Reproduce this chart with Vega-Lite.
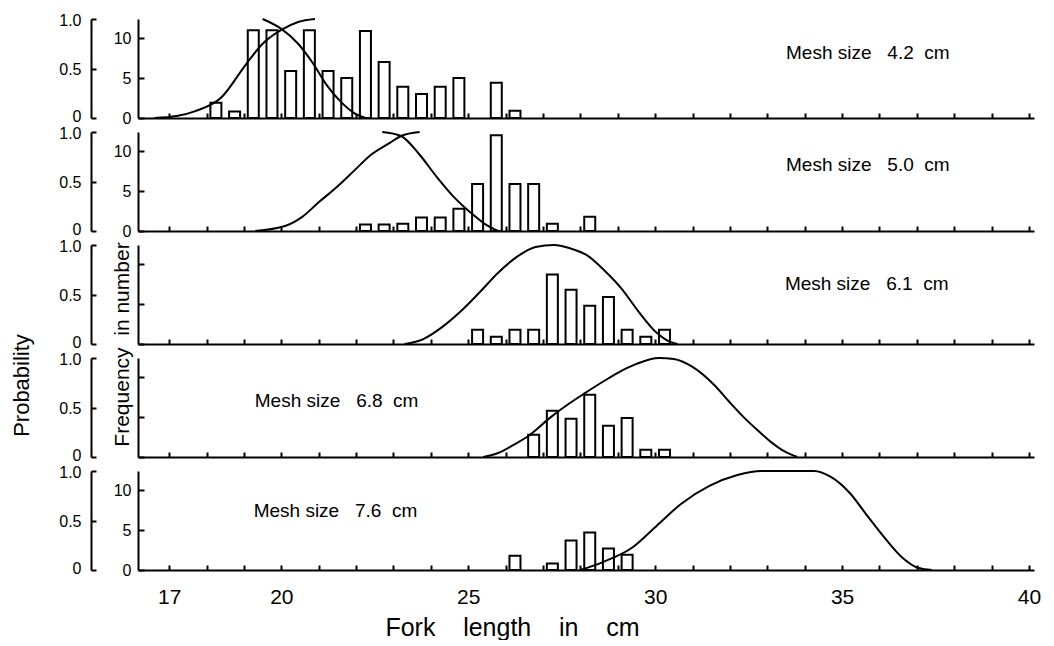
{
  "$schema": "https://vega.github.io/schema/vega-lite/v6.json",
  "background": "white",
  "padding": {"left": 10, "top": 12, "right": 0, "bottom": 0},
  "bounds": "flush",
  "spacing": 14,
  "datasets": {
    "bars": [
      {"mesh": "4.2", "length": 18.25, "freq": 1.9},
      {"mesh": "4.2", "length": 18.75, "freq": 0.8},
      {"mesh": "4.2", "length": 19.25, "freq": 11},
      {"mesh": "4.2", "length": 19.75, "freq": 11},
      {"mesh": "4.2", "length": 20.25, "freq": 5.9},
      {"mesh": "4.2", "length": 20.75, "freq": 11},
      {"mesh": "4.2", "length": 21.25, "freq": 5.9},
      {"mesh": "4.2", "length": 21.75, "freq": 5},
      {"mesh": "4.2", "length": 22.25, "freq": 10.9},
      {"mesh": "4.2", "length": 22.75, "freq": 7},
      {"mesh": "4.2", "length": 23.25, "freq": 3.9},
      {"mesh": "4.2", "length": 23.75, "freq": 3},
      {"mesh": "4.2", "length": 24.25, "freq": 3.9},
      {"mesh": "4.2", "length": 24.75, "freq": 5},
      {"mesh": "4.2", "length": 25.75, "freq": 4.4},
      {"mesh": "4.2", "length": 26.25, "freq": 0.9},
      {"mesh": "5.0", "length": 22.25, "freq": 0.8},
      {"mesh": "5.0", "length": 22.75, "freq": 0.8},
      {"mesh": "5.0", "length": 23.25, "freq": 0.9},
      {"mesh": "5.0", "length": 23.75, "freq": 1.7},
      {"mesh": "5.0", "length": 24.25, "freq": 1.7},
      {"mesh": "5.0", "length": 24.75, "freq": 2.8},
      {"mesh": "5.0", "length": 25.25, "freq": 5.9},
      {"mesh": "5.0", "length": 25.75, "freq": 12},
      {"mesh": "5.0", "length": 26.25, "freq": 5.9},
      {"mesh": "5.0", "length": 26.75, "freq": 5.9},
      {"mesh": "5.0", "length": 27.25, "freq": 0.9},
      {"mesh": "5.0", "length": 28.25, "freq": 1.8},
      {"mesh": "6.1", "length": 25.25, "freq": 1.8},
      {"mesh": "6.1", "length": 25.75, "freq": 0.9},
      {"mesh": "6.1", "length": 26.25, "freq": 1.8},
      {"mesh": "6.1", "length": 26.75, "freq": 1.8},
      {"mesh": "6.1", "length": 27.25, "freq": 8.7},
      {"mesh": "6.1", "length": 27.75, "freq": 6.8},
      {"mesh": "6.1", "length": 28.25, "freq": 4.8},
      {"mesh": "6.1", "length": 28.75, "freq": 5.9},
      {"mesh": "6.1", "length": 29.25, "freq": 1.8},
      {"mesh": "6.1", "length": 29.75, "freq": 0.9},
      {"mesh": "6.1", "length": 30.25, "freq": 1.8},
      {"mesh": "6.8", "length": 26.75, "freq": 2.8},
      {"mesh": "6.8", "length": 27.25, "freq": 5.8},
      {"mesh": "6.8", "length": 27.75, "freq": 4.8},
      {"mesh": "6.8", "length": 28.25, "freq": 7.8},
      {"mesh": "6.8", "length": 28.75, "freq": 3.9},
      {"mesh": "6.8", "length": 29.25, "freq": 4.9},
      {"mesh": "6.8", "length": 29.75, "freq": 0.9},
      {"mesh": "6.8", "length": 30.25, "freq": 0.9},
      {"mesh": "7.6", "length": 26.25, "freq": 1.8},
      {"mesh": "7.6", "length": 27.25, "freq": 0.8},
      {"mesh": "7.6", "length": 27.75, "freq": 3.7},
      {"mesh": "7.6", "length": 28.25, "freq": 4.7},
      {"mesh": "7.6", "length": 28.75, "freq": 2.7},
      {"mesh": "7.6", "length": 29.25, "freq": 1.9}
    ],
    "curves": [
      {"mesh": "4.2", "limb": "a", "length": 16.6, "prob": 0},
      {"mesh": "4.2", "limb": "a", "length": 17.2, "prob": 0.02},
      {"mesh": "4.2", "limb": "a", "length": 17.7, "prob": 0.07},
      {"mesh": "4.2", "limb": "a", "length": 18.4, "prob": 0.21},
      {"mesh": "4.2", "limb": "a", "length": 19.05, "prob": 0.54},
      {"mesh": "4.2", "limb": "a", "length": 19.5, "prob": 0.75},
      {"mesh": "4.2", "limb": "a", "length": 20.0, "prob": 0.89},
      {"mesh": "4.2", "limb": "a", "length": 20.45, "prob": 0.97},
      {"mesh": "4.2", "limb": "a", "length": 20.9, "prob": 1.0},
      {"mesh": "4.2", "limb": "b", "length": 19.5, "prob": 1.0},
      {"mesh": "4.2", "limb": "b", "length": 20.0, "prob": 0.9},
      {"mesh": "4.2", "limb": "b", "length": 20.45, "prob": 0.75},
      {"mesh": "4.2", "limb": "b", "length": 20.85, "prob": 0.55},
      {"mesh": "4.2", "limb": "b", "length": 21.2, "prob": 0.34},
      {"mesh": "4.2", "limb": "b", "length": 21.6, "prob": 0.16},
      {"mesh": "4.2", "limb": "b", "length": 21.95, "prob": 0.05},
      {"mesh": "4.2", "limb": "b", "length": 22.25, "prob": 0.0},
      {"mesh": "5.0", "limb": "a", "length": 19.3, "prob": 0},
      {"mesh": "5.0", "limb": "a", "length": 20.1, "prob": 0.05},
      {"mesh": "5.0", "limb": "a", "length": 20.55, "prob": 0.14},
      {"mesh": "5.0", "limb": "a", "length": 21.0, "prob": 0.29},
      {"mesh": "5.0", "limb": "a", "length": 21.5, "prob": 0.45},
      {"mesh": "5.0", "limb": "a", "length": 21.95, "prob": 0.61},
      {"mesh": "5.0", "limb": "a", "length": 22.4, "prob": 0.77},
      {"mesh": "5.0", "limb": "a", "length": 22.9, "prob": 0.89},
      {"mesh": "5.0", "limb": "a", "length": 23.2, "prob": 0.96},
      {"mesh": "5.0", "limb": "a", "length": 23.7, "prob": 1.0},
      {"mesh": "5.0", "limb": "b", "length": 22.7, "prob": 1.0},
      {"mesh": "5.0", "limb": "b", "length": 23.2, "prob": 0.96},
      {"mesh": "5.0", "limb": "b", "length": 23.7, "prob": 0.77},
      {"mesh": "5.0", "limb": "b", "length": 24.15, "prob": 0.55},
      {"mesh": "5.0", "limb": "b", "length": 24.6, "prob": 0.35},
      {"mesh": "5.0", "limb": "b", "length": 25.05, "prob": 0.19},
      {"mesh": "5.0", "limb": "b", "length": 25.45, "prob": 0.07},
      {"mesh": "5.0", "limb": "b", "length": 25.8, "prob": 0.0},
      {"mesh": "6.1", "limb": "a", "length": 23.3, "prob": 0},
      {"mesh": "6.1", "limb": "a", "length": 23.8, "prob": 0.05},
      {"mesh": "6.1", "limb": "a", "length": 24.3, "prob": 0.17},
      {"mesh": "6.1", "limb": "a", "length": 24.8, "prob": 0.33},
      {"mesh": "6.1", "limb": "a", "length": 25.3, "prob": 0.52},
      {"mesh": "6.1", "limb": "a", "length": 25.8, "prob": 0.72},
      {"mesh": "6.1", "limb": "a", "length": 26.3, "prob": 0.88},
      {"mesh": "6.1", "limb": "a", "length": 26.8, "prob": 0.98},
      {"mesh": "6.1", "limb": "a", "length": 27.3, "prob": 1.0},
      {"mesh": "6.1", "limb": "a", "length": 27.7, "prob": 0.97},
      {"mesh": "6.1", "limb": "a", "length": 28.2, "prob": 0.89},
      {"mesh": "6.1", "limb": "a", "length": 28.65, "prob": 0.74},
      {"mesh": "6.1", "limb": "a", "length": 29.1, "prob": 0.56},
      {"mesh": "6.1", "limb": "a", "length": 29.55, "prob": 0.33},
      {"mesh": "6.1", "limb": "a", "length": 30.05, "prob": 0.11},
      {"mesh": "6.1", "limb": "a", "length": 30.4, "prob": 0.02},
      {"mesh": "6.1", "limb": "a", "length": 30.6, "prob": 0},
      {"mesh": "6.8", "limb": "a", "length": 25.4, "prob": 0},
      {"mesh": "6.8", "limb": "a", "length": 25.8, "prob": 0.04},
      {"mesh": "6.8", "limb": "a", "length": 26.2, "prob": 0.12},
      {"mesh": "6.8", "limb": "a", "length": 26.6, "prob": 0.21},
      {"mesh": "6.8", "limb": "a", "length": 27.2, "prob": 0.4},
      {"mesh": "6.8", "limb": "a", "length": 27.7, "prob": 0.54},
      {"mesh": "6.8", "limb": "a", "length": 28.1, "prob": 0.64},
      {"mesh": "6.8", "limb": "a", "length": 28.6, "prob": 0.76},
      {"mesh": "6.8", "limb": "a", "length": 29.0, "prob": 0.85},
      {"mesh": "6.8", "limb": "a", "length": 29.5, "prob": 0.94},
      {"mesh": "6.8", "limb": "a", "length": 30.1, "prob": 1.0},
      {"mesh": "6.8", "limb": "a", "length": 30.5, "prob": 0.99},
      {"mesh": "6.8", "limb": "a", "length": 31.0, "prob": 0.91},
      {"mesh": "6.8", "limb": "a", "length": 31.6, "prob": 0.72},
      {"mesh": "6.8", "limb": "a", "length": 32.0, "prob": 0.55},
      {"mesh": "6.8", "limb": "a", "length": 32.4, "prob": 0.39},
      {"mesh": "6.8", "limb": "a", "length": 32.8, "prob": 0.25},
      {"mesh": "6.8", "limb": "a", "length": 33.1, "prob": 0.15},
      {"mesh": "6.8", "limb": "a", "length": 33.4, "prob": 0.07},
      {"mesh": "6.8", "limb": "a", "length": 33.8, "prob": 0.0},
      {"mesh": "7.6", "limb": "a", "length": 28.0, "prob": 0},
      {"mesh": "7.6", "limb": "a", "length": 28.6, "prob": 0.08},
      {"mesh": "7.6", "limb": "a", "length": 29.4, "prob": 0.23},
      {"mesh": "7.6", "limb": "a", "length": 30.05, "prob": 0.45},
      {"mesh": "7.6", "limb": "a", "length": 30.7, "prob": 0.67},
      {"mesh": "7.6", "limb": "a", "length": 31.45, "prob": 0.85},
      {"mesh": "7.6", "limb": "a", "length": 32.2, "prob": 0.96},
      {"mesh": "7.6", "limb": "a", "length": 32.85, "prob": 1.0},
      {"mesh": "7.6", "limb": "a", "length": 33.5, "prob": 1.0},
      {"mesh": "7.6", "limb": "a", "length": 34.25, "prob": 1.0},
      {"mesh": "7.6", "limb": "a", "length": 34.7, "prob": 0.94},
      {"mesh": "7.6", "limb": "a", "length": 35.2, "prob": 0.78},
      {"mesh": "7.6", "limb": "a", "length": 35.65, "prob": 0.56},
      {"mesh": "7.6", "limb": "a", "length": 36.15, "prob": 0.32},
      {"mesh": "7.6", "limb": "a", "length": 36.6, "prob": 0.13},
      {"mesh": "7.6", "limb": "a", "length": 37.05, "prob": 0.02},
      {"mesh": "7.6", "limb": "a", "length": 37.4, "prob": 0}
    ]
  },
  "vconcat": [
    {
      "width": 896, "height": 99,
      "resolve": {"scale": {"y": "independent"}},
      "layer": [
        {
          "data": {"name": "bars"},
          "transform": [{"filter": "datum.mesh == '4.2'"}],
          "mark": {"type": "bar", "width": 11, "fill": "white", "stroke": "black", "strokeWidth": 2},
          "encoding": {
            "x": {"field": "length", "type": "quantitative", "scale": {"domain": [16.3, 40], "nice": false, "zero": false},
              "axis": {"values": [17,18,19,20,21,22,23,24,25,26,27,28,29,30,31,32,33,34,35,36,37,38,39,40], "tickSize": -5, "labels": false, "title": null}},
            "y": {"field": "freq", "type": "quantitative", "scale": {"domain": [0, 12.4], "nice": false},
              "axis": {"orient": "left", "values": [0, 5, 10], "tickSize": -6, "labelPadding": 13, "labelFontSize": 16, "title": null}}
          }
        },
        {
          "data": {"name": "curves"},
          "transform": [{"filter": "datum.mesh == '4.2'"}],
          "mark": {"type": "line", "interpolate": "monotone", "color": "black", "strokeWidth": 2},
          "encoding": {
            "x": {"field": "length", "type": "quantitative", "scale": {"domain": [16.3, 40], "nice": false, "zero": false},
              "axis": {"values": [17,18,19,20,21,22,23,24,25,26,27,28,29,30,31,32,33,34,35,36,37,38,39,40], "tickSize": -5, "labels": false, "title": null}},
            "y": {"field": "prob", "type": "quantitative", "scale": {"domain": [0, 1], "nice": false},
              "axis": {"orient": "left", "offset": 47, "values": [0, 0.5, 1], "tickSize": -5, "labelPadding": 15, "labelFontSize": 16, "labelOffset": {"condition": {"test": "datum.value == 0", "value": -2}, "value": 1}, "labelExpr": "datum.value == 0 ? '0' : format(datum.value, '.1f')", "title": null}},
            "detail": {"field": "limb"}
          }
        },
        {
          "data": {"values": [{"label": "Mesh size\u00a0\u00a0\u00a04.2\u00a0\u00a0cm"}]},
          "mark": {"type": "text", "align": "left", "baseline": "middle", "fontSize": 19},
          "encoding": {
            "x": {"datum": 33.5, "type": "quantitative", "scale": {"domain": [16.3, 40], "nice": false, "zero": false},
              "axis": {"values": [17,18,19,20,21,22,23,24,25,26,27,28,29,30,31,32,33,34,35,36,37,38,39,40], "tickSize": -5, "labels": false, "title": null}},
            "y": {"datum": 0.66, "type": "quantitative", "scale": {"domain": [0, 1]}, "axis": null},
            "text": {"field": "label"}
          }
        }
      ]
    },
    {
      "width": 896, "height": 99,
      "resolve": {"scale": {"y": "independent"}},
      "layer": [
        {
          "data": {"name": "bars"},
          "transform": [{"filter": "datum.mesh == '5.0'"}],
          "mark": {"type": "bar", "width": 11, "fill": "white", "stroke": "black", "strokeWidth": 2},
          "encoding": {
            "x": {"field": "length", "type": "quantitative", "scale": {"domain": [16.3, 40], "nice": false, "zero": false},
              "axis": {"values": [17,18,19,20,21,22,23,24,25,26,27,28,29,30,31,32,33,34,35,36,37,38,39,40], "tickSize": -5, "labels": false, "title": null}},
            "y": {"field": "freq", "type": "quantitative", "scale": {"domain": [0, 12.4], "nice": false},
              "axis": {"orient": "left", "values": [0, 5, 10], "tickSize": -6, "labelPadding": 13, "labelFontSize": 16, "title": null}}
          }
        },
        {
          "data": {"name": "curves"},
          "transform": [{"filter": "datum.mesh == '5.0'"}],
          "mark": {"type": "line", "interpolate": "monotone", "color": "black", "strokeWidth": 2},
          "encoding": {
            "x": {"field": "length", "type": "quantitative", "scale": {"domain": [16.3, 40], "nice": false, "zero": false},
              "axis": {"values": [17,18,19,20,21,22,23,24,25,26,27,28,29,30,31,32,33,34,35,36,37,38,39,40], "tickSize": -5, "labels": false, "title": null}},
            "y": {"field": "prob", "type": "quantitative", "scale": {"domain": [0, 1], "nice": false},
              "axis": {"orient": "left", "offset": 47, "values": [0, 0.5, 1], "tickSize": -5, "labelPadding": 15, "labelFontSize": 16, "labelOffset": {"condition": {"test": "datum.value == 0", "value": -2}, "value": 1}, "labelExpr": "datum.value == 0 ? '0' : format(datum.value, '.1f')", "title": null}},
            "detail": {"field": "limb"}
          }
        },
        {
          "data": {"values": [{"label": "Mesh size\u00a0\u00a0\u00a05.0\u00a0\u00a0cm"}]},
          "mark": {"type": "text", "align": "left", "baseline": "middle", "fontSize": 19},
          "encoding": {
            "x": {"datum": 33.5, "type": "quantitative", "scale": {"domain": [16.3, 40], "nice": false, "zero": false},
              "axis": {"values": [17,18,19,20,21,22,23,24,25,26,27,28,29,30,31,32,33,34,35,36,37,38,39,40], "tickSize": -5, "labels": false, "title": null}},
            "y": {"datum": 0.67, "type": "quantitative", "scale": {"domain": [0, 1]}, "axis": null},
            "text": {"field": "label"}
          }
        }
      ]
    },
    {
      "width": 896, "height": 99,
      "resolve": {"scale": {"y": "independent"}},
      "layer": [
        {
          "data": {"name": "bars"},
          "transform": [{"filter": "datum.mesh == '6.1'"}],
          "mark": {"type": "bar", "width": 11, "fill": "white", "stroke": "black", "strokeWidth": 2},
          "encoding": {
            "x": {"field": "length", "type": "quantitative", "scale": {"domain": [16.3, 40], "nice": false, "zero": false},
              "axis": {"values": [17,18,19,20,21,22,23,24,25,26,27,28,29,30,31,32,33,34,35,36,37,38,39,40], "tickSize": -5, "labels": false, "title": null}},
            "y": {"field": "freq", "type": "quantitative", "scale": {"domain": [0, 12.4], "nice": false},
              "axis": {"orient": "left", "values": [0, 5, 10], "tickSize": -6, "labels": false, "title": "Frequency\u00a0\u00a0in number", "titleFontSize": 21, "titleX": -10, "titleY": 99, "titleAngle": 270, "titleBaseline": "alphabetic", "titleAlign": "center"}}
          }
        },
        {
          "data": {"name": "curves"},
          "transform": [{"filter": "datum.mesh == '6.1'"}],
          "mark": {"type": "line", "interpolate": "monotone", "color": "black", "strokeWidth": 2},
          "encoding": {
            "x": {"field": "length", "type": "quantitative", "scale": {"domain": [16.3, 40], "nice": false, "zero": false},
              "axis": {"values": [17,18,19,20,21,22,23,24,25,26,27,28,29,30,31,32,33,34,35,36,37,38,39,40], "tickSize": -5, "labels": false, "title": null}},
            "y": {"field": "prob", "type": "quantitative", "scale": {"domain": [0, 1], "nice": false},
              "axis": {"orient": "left", "offset": 47, "values": [0, 0.5, 1], "tickSize": -5, "labelPadding": 15, "labelFontSize": 16, "labelOffset": {"condition": {"test": "datum.value == 0", "value": -2}, "value": 1}, "labelExpr": "datum.value == 0 ? '0' : format(datum.value, '.1f')", "title": null}},
            "detail": {"field": "limb"}
          }
        },
        {
          "data": {"values": [{"label": "Mesh size\u00a0\u00a0\u00a06.1\u00a0\u00a0cm"}]},
          "mark": {"type": "text", "align": "left", "baseline": "middle", "fontSize": 19},
          "encoding": {
            "x": {"datum": 33.47, "type": "quantitative", "scale": {"domain": [16.3, 40], "nice": false, "zero": false},
              "axis": {"values": [17,18,19,20,21,22,23,24,25,26,27,28,29,30,31,32,33,34,35,36,37,38,39,40], "tickSize": -5, "labels": false, "title": null}},
            "y": {"datum": 0.61, "type": "quantitative", "scale": {"domain": [0, 1]}, "axis": null},
            "text": {"field": "label"}
          }
        }
      ]
    },
    {
      "width": 896, "height": 99,
      "resolve": {"scale": {"y": "independent"}},
      "layer": [
        {
          "data": {"name": "bars"},
          "transform": [{"filter": "datum.mesh == '6.8'"}],
          "mark": {"type": "bar", "width": 11, "fill": "white", "stroke": "black", "strokeWidth": 2},
          "encoding": {
            "x": {"field": "length", "type": "quantitative", "scale": {"domain": [16.3, 40], "nice": false, "zero": false},
              "axis": {"values": [17,18,19,20,21,22,23,24,25,26,27,28,29,30,31,32,33,34,35,36,37,38,39,40], "tickSize": -5, "labels": false, "title": null}},
            "y": {"field": "freq", "type": "quantitative", "scale": {"domain": [0, 12.4], "nice": false},
              "axis": {"orient": "left", "values": [0, 5, 10], "tickSize": -6, "labels": false, "title": null}}
          }
        },
        {
          "data": {"name": "curves"},
          "transform": [{"filter": "datum.mesh == '6.8'"}],
          "mark": {"type": "line", "interpolate": "monotone", "color": "black", "strokeWidth": 2},
          "encoding": {
            "x": {"field": "length", "type": "quantitative", "scale": {"domain": [16.3, 40], "nice": false, "zero": false},
              "axis": {"values": [17,18,19,20,21,22,23,24,25,26,27,28,29,30,31,32,33,34,35,36,37,38,39,40], "tickSize": -5, "labels": false, "title": null}},
            "y": {"field": "prob", "type": "quantitative", "scale": {"domain": [0, 1], "nice": false},
              "axis": {"orient": "left", "offset": 47, "values": [0, 0.5, 1], "tickSize": -5, "labelPadding": 15, "labelFontSize": 16, "labelOffset": {"condition": {"test": "datum.value == 0", "value": -2}, "value": 1}, "labelExpr": "datum.value == 0 ? '0' : format(datum.value, '.1f')", "title": "Probability", "titleFontSize": 22, "titleX": -63, "titleY": 27, "titleAngle": 270, "titleBaseline": "alphabetic", "titleAlign": "center"}},
            "detail": {"field": "limb"}
          }
        },
        {
          "data": {"values": [{"label": "Mesh size\u00a0\u00a0\u00a06.8\u00a0\u00a0cm"}]},
          "mark": {"type": "text", "align": "left", "baseline": "middle", "fontSize": 19},
          "encoding": {
            "x": {"datum": 19.29, "type": "quantitative", "scale": {"domain": [16.3, 40], "nice": false, "zero": false},
              "axis": {"values": [17,18,19,20,21,22,23,24,25,26,27,28,29,30,31,32,33,34,35,36,37,38,39,40], "tickSize": -5, "labels": false, "title": null}},
            "y": {"datum": 0.57, "type": "quantitative", "scale": {"domain": [0, 1]}, "axis": null},
            "text": {"field": "label"}
          }
        }
      ]
    },
    {
      "width": 896, "height": 99,
      "resolve": {"scale": {"y": "independent"}},
      "layer": [
        {
          "data": {"name": "bars"},
          "transform": [{"filter": "datum.mesh == '7.6'"}],
          "mark": {"type": "bar", "width": 11, "fill": "white", "stroke": "black", "strokeWidth": 2},
          "encoding": {
            "x": {"field": "length", "type": "quantitative", "scale": {"domain": [16.3, 40], "nice": false, "zero": false},
              "axis": {"values": [17,18,19,20,21,22,23,24,25,26,27,28,29,30,31,32,33,34,35,36,37,38,39,40], "tickSize": -5, "labelPadding": 21, "labelFontSize": 21, "labelFlush": false, "labelOverlap": false, "labelExpr": "(datum.value == 17 || datum.value % 5 == 0) ? datum.label : ''", "title": "Fork\u00a0\u00a0\u00a0\u00a0length\u00a0\u00a0\u00a0\u00a0in\u00a0\u00a0\u00a0\u00a0cm", "titleFontSize": 25, "titleX": 374, "titleY": 65, "titleBaseline": "alphabetic", "titleAlign": "center"}},
            "y": {"field": "freq", "type": "quantitative", "scale": {"domain": [0, 12.4], "nice": false},
              "axis": {"orient": "left", "values": [0, 5, 10], "tickSize": -6, "labelPadding": 13, "labelFontSize": 16, "title": null}}
          }
        },
        {
          "data": {"name": "curves"},
          "transform": [{"filter": "datum.mesh == '7.6'"}],
          "mark": {"type": "line", "interpolate": "monotone", "color": "black", "strokeWidth": 2},
          "encoding": {
            "x": {"field": "length", "type": "quantitative", "scale": {"domain": [16.3, 40], "nice": false, "zero": false},
              "axis": {"values": [17,18,19,20,21,22,23,24,25,26,27,28,29,30,31,32,33,34,35,36,37,38,39,40], "tickSize": -5, "labelPadding": 21, "labelFontSize": 21, "labelFlush": false, "labelOverlap": false, "labelExpr": "(datum.value == 17 || datum.value % 5 == 0) ? datum.label : ''", "title": "Fork\u00a0\u00a0\u00a0\u00a0length\u00a0\u00a0\u00a0\u00a0in\u00a0\u00a0\u00a0\u00a0cm", "titleFontSize": 25, "titleX": 374, "titleY": 65, "titleBaseline": "alphabetic", "titleAlign": "center"}},
            "y": {"field": "prob", "type": "quantitative", "scale": {"domain": [0, 1], "nice": false},
              "axis": {"orient": "left", "offset": 47, "values": [0, 0.5, 1], "tickSize": -5, "labelPadding": 15, "labelFontSize": 16, "labelOffset": {"condition": {"test": "datum.value == 0", "value": -2}, "value": 1}, "labelExpr": "datum.value == 0 ? '0' : format(datum.value, '.1f')", "title": null}},
            "detail": {"field": "limb"}
          }
        },
        {
          "data": {"values": [{"label": "Mesh size\u00a0\u00a0\u00a07.6\u00a0\u00a0cm"}]},
          "mark": {"type": "text", "align": "left", "baseline": "middle", "fontSize": 19},
          "encoding": {
            "x": {"datum": 19.26, "type": "quantitative", "scale": {"domain": [16.3, 40], "nice": false, "zero": false},
              "axis": {"values": [17,18,19,20,21,22,23,24,25,26,27,28,29,30,31,32,33,34,35,36,37,38,39,40], "tickSize": -5, "labelPadding": 21, "labelFontSize": 21, "labelFlush": false, "labelOverlap": false, "labelExpr": "(datum.value == 17 || datum.value % 5 == 0) ? datum.label : ''", "title": "Fork\u00a0\u00a0\u00a0\u00a0length\u00a0\u00a0\u00a0\u00a0in\u00a0\u00a0\u00a0\u00a0cm", "titleFontSize": 25, "titleX": 374, "titleY": 65, "titleBaseline": "alphabetic", "titleAlign": "center"}},
            "y": {"datum": 0.6, "type": "quantitative", "scale": {"domain": [0, 1]}, "axis": null},
            "text": {"field": "label"}
          }
        }
      ]
    }
  ],
  "config": {
    "view": {"stroke": null},
    "font": "Liberation Sans",
    "text": {"font": "Liberation Sans", "color": "black"},
    "axis": {
      "grid": false,
      "domainColor": "black", "domainWidth": 2,
      "tickColor": "black", "tickWidth": 2,
      "labelColor": "black", "labelFont": "Liberation Sans",
      "titleColor": "black", "titleFont": "Liberation Sans", "titleFontWeight": "normal"
    }
  }
}
